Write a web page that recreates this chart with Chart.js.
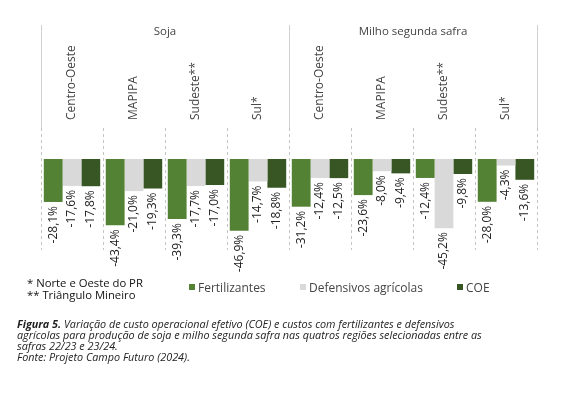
<!DOCTYPE html>
<html>
<head>
<meta charset="utf-8">
<script src="https://cdn.jsdelivr.net/npm/chart.js"></script>
<style>
  html, body { margin: 0; padding: 0; background: #fff; }
  body { width: 562px; height: 398px; position: relative; overflow: hidden; font-family: "Open Sans", sans-serif; color: #222; }
  #wrap { position: absolute; left: 0; top: 0; width: 562px; height: 285px; }
  .note { position: absolute; left: 27px; font-size: 11.3px; color: #111; }
  .leg { position: absolute; top: 279px; font-size: 12px; color: #444; white-space: nowrap; }
  .leg span { display: inline-block; width: 6px; height: 6px; margin-right: 3px; vertical-align: 2px; }
  #caption { position: absolute; left: 17px; top: 318px; width: 540px; font-size: 10.8px; line-height: 11px; font-style: italic; color: #222; white-space: nowrap; }
</style>
</head>
<body>
<div id="wrap"><canvas id="chart"></canvas></div>

<div class="note" style="top:275px">* Norte e Oeste do PR</div>
<div class="note" style="top:287px">** Triângulo Mineiro</div>

<div id="legend"></div>

<div id="caption"><b>Figura 5.</b> Variação de custo operacional efetivo (COE) e custos com fertilizantes e defensivos<br>agrícolas para produção de soja e milho segunda safra nas quatros regiões selecionadas entre as<br>safras 22/23 e 23/24.<br>Fonte: Projeto Campo Futuro (2024).</div>

<script>
// Daten
const regioes = ["Centro-Oeste", "MAPIPA", "Sudeste**", "Sul*", "Centro-Oeste", "MAPIPA", "Sudeste**", "Sul*"];
const culturas = ["Soja", "Milho segunda safra"];
const fertilizantes = [-28.1, -43.4, -39.3, -46.9, -31.2, -23.6, -12.4, -28.0];
const defensivos = [-17.6, -21.0, -17.7, -14.7, -12.4, -8.0, -45.2, -4.3];
const coe = [-17.8, -19.3, -17.0, -18.8, -12.5, -9.4, -9.8, -13.6];

const series = [
  { label: 'Fertilizantes', data: fertilizantes, color: '#548235' },
  { label: 'Defensivos agrícolas', data: defensivos, color: '#d9d9d9' },
  { label: 'COE', data: coe, color: '#375623' }
];

// Legende (HTML)
const legendX = [189, 300, 457];
const legendEl = document.getElementById('legend');
series.forEach((s, i) => {
  const d = document.createElement('div');
  d.className = 'leg';
  d.style.left = legendX[i] + 'px';
  d.innerHTML = '<span style="background:' + s.color + '"></span>' + s.label;
  legendEl.appendChild(d);
});

const fmt = v => v.toFixed(1).replace('.', ',') + '%';

// Plugin für Beschriftungen und Linien
const decoPlugin = {
  id: 'deco',
  beforeDatasetsDraw(chart) {
    const ctx = chart.ctx;
    const area = chart.chartArea;
    const x = chart.scales.x;
    const step = (area.right - area.left) / regioes.length;
    ctx.save();
    // durchgezogene Linien oben
    ctx.strokeStyle = '#d0d0d0';
    ctx.lineWidth = 1;
    [0, 4, 8].forEach(i => {
      const px = Math.round(area.left + i * step) + 0.5;
      ctx.beginPath();
      ctx.moveTo(px, area.top);
      ctx.lineTo(px, 128);
      ctx.stroke();
    });
    // gestrichelte Linien
    ctx.setLineDash([3, 3]);
    ctx.strokeStyle = '#c4c4c4';
    for (let i = 0; i <= regioes.length; i++) {
      const px = Math.round(area.left + i * step) + 0.5;
      ctx.beginPath();
      ctx.moveTo(px, 128);
      ctx.lineTo(px, area.bottom);
      ctx.stroke();
    }
    ctx.setLineDash([]);
    // Kulturen
    ctx.fillStyle = '#444';
    ctx.font = '11.5px "Open Sans"';
    ctx.textAlign = 'center';
    ctx.textBaseline = 'middle';
    culturas.forEach((c, i) => {
      ctx.fillText(c, area.left + (i * 4 + 2) * step, 32);
    });
    // Regionen (gedreht)
    ctx.font = '12px "Open Sans"';
    regioes.forEach((r, i) => {
      ctx.save();
      ctx.translate(x.getPixelForValue(i), 120);
      ctx.rotate(-Math.PI / 2);
      ctx.textAlign = 'left';
      ctx.fillText(r, 0, 0);
      ctx.restore();
    });
    ctx.restore();
  },
  afterDatasetsDraw(chart) {
    const ctx = chart.ctx;
    ctx.save();
    ctx.fillStyle = '#222';
    ctx.font = '12px "Open Sans"';
    ctx.textBaseline = 'middle';
    ctx.textAlign = 'right';
    chart.data.datasets.forEach((ds, di) => {
      chart.getDatasetMeta(di).data.forEach((bar, i) => {
        ctx.save();
        ctx.translate(bar.x, bar.y + 4);
        ctx.rotate(-Math.PI / 2);
        ctx.fillText(fmt(ds.data[i]), 0, 0);
        ctx.restore();
      });
    });
    ctx.restore();
  }
};

new Chart(document.getElementById('chart'), {
  type: 'bar',
  data: {
    labels: regioes,
    datasets: series.map(s => ({
      label: s.label,
      data: s.data,
      backgroundColor: s.color,
      borderWidth: 0,
      categoryPercentage: 0.91,
      barPercentage: 1.0
    }))
  },
  options: {
    responsive: true,
    maintainAspectRatio: false,
    animation: false,
    layout: { padding: { left: 41, right: 25, top: 25, bottom: 35 } },
    plugins: { legend: { display: false }, tooltip: { enabled: false } },
    scales: {
      x: { display: false },
      y: { display: false, min: -59.5, max: 87.6 }
    }
  },
  plugins: [decoPlugin]
});
</script>
</body>
</html>
